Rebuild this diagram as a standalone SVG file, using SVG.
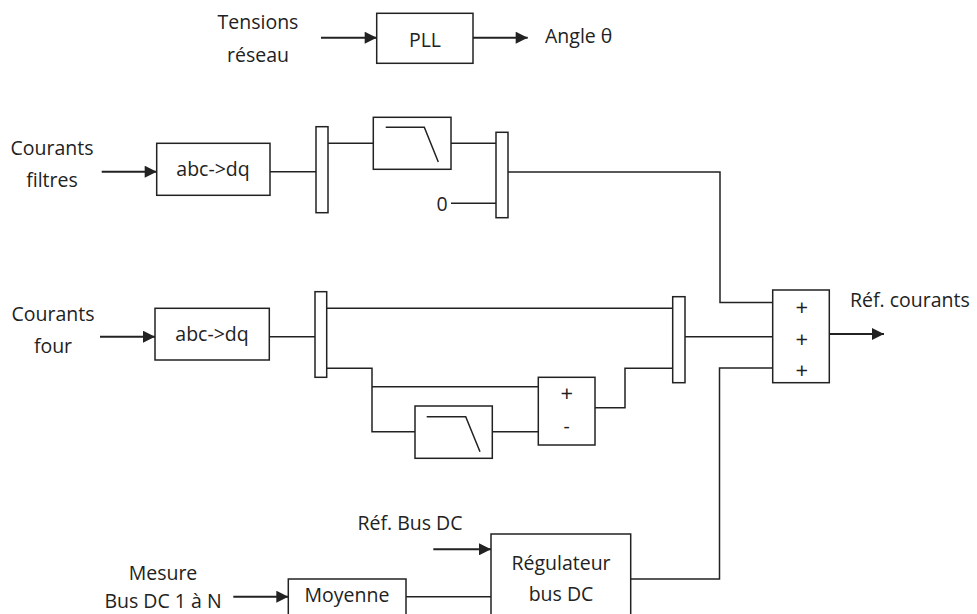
<svg xmlns="http://www.w3.org/2000/svg" width="977" height="614" viewBox="0 0 977 614">
<defs>
<marker id="ah" viewBox="0 0 10 10" refX="10" refY="5" markerWidth="13" markerHeight="12" markerUnits="userSpaceOnUse" orient="auto">
<path d="M0,0 L10,5 L0,10 z" fill="#222"/>
</marker>
<style>
.box{fill:#fff;stroke:#222;stroke-width:1.5}
.ln{fill:none;stroke:#222;stroke-width:1.5}
.ar{fill:none;stroke:#222;stroke-width:2;marker-end:url(#ah)}
text{font-family:"Open Sans","Liberation Sans",sans-serif;font-size:19.5px;fill:#222;text-anchor:middle}
.op{font-size:22px}
</style>
</defs>
<rect width="977" height="614" fill="#fff"/>
<g id="connectors">
<path class="ar" d="M321,37.7 H376.7"/>
<path class="ar" d="M473,37.7 H527.7"/>
<path class="ar" d="M101.7,171.7 H156.7"/>
<path class="ln" d="M270,171.7 H316"/>
<path class="ln" d="M328,143.3 H373.3"/>
<path class="ln" d="M451,143.3 H496"/>
<path class="ln" d="M451,203.3 H496"/>
<path class="ln" d="M508,172 H720 V302.5 H772.7"/>
<path class="ar" d="M100,336.7 H155"/>
<path class="ln" d="M269.3,336.7 H315"/>
<path class="ln" d="M326.7,308.3 H672.7"/>
<path class="ln" d="M326.7,368.3 H372 V431.7 H415"/>
<path class="ln" d="M372,386.7 H538.3"/>
<path class="ln" d="M492.3,431.7 H538.3"/>
<path class="ln" d="M595,407.7 H625 V368.3 H672.7"/>
<path class="ln" d="M685,336.7 H772.7"/>
<path class="ln" d="M630.7,579 H719.5 V368 H772.7"/>
<path class="ar" d="M829.3,334 H884"/>
<path class="ar" d="M433.3,549.3 H491"/>
<path class="ar" d="M233.3,596.7 H288.3"/>
<path class="ln" d="M406,596.7 H491"/>
</g>
<g id="pll">
<rect class="box" x="376.7" y="13.3" width="96.3" height="50"/>
<text x="425" y="47">PLL</text>
</g>
<g id="labels-top">
<text x="258" y="29">Tensions</text>
<text x="258" y="62">réseau</text>
<text x="545" y="43" style="text-anchor:start">Angle θ</text>
</g>
<g id="abcdq1">
<rect class="box" x="156.7" y="143.3" width="113.3" height="52"/>
<text x="213" y="176">abc-&gt;dq</text>
</g>
<g id="in-filtres">
<text x="52" y="155">Courants</text>
<text x="52" y="187">filtres</text>
</g>
<g id="demux1"><rect class="box" x="316" y="126.7" width="12" height="86"/></g>
<g id="filter1">
<rect class="box" x="373.3" y="117.3" width="77.7" height="52"/>
<path class="ln" d="M385.7,127.3 H424.3 L438.3,162"/>
</g>
<g id="mux2"><rect class="box" x="496" y="132.3" width="12" height="85.4"/></g>
<g id="zero"><text x="442" y="211">0</text></g>
<g id="abcdq2">
<rect class="box" x="155" y="308.3" width="114.3" height="51.7"/>
<text x="212" y="341">abc-&gt;dq</text>
</g>
<g id="in-four">
<text x="53" y="321">Courants</text>
<text x="53" y="353">four</text>
</g>
<g id="demux2"><rect class="box" x="315" y="291.7" width="11.7" height="85.6"/></g>
<g id="filter2">
<rect class="box" x="415" y="406" width="77.3" height="52.3"/>
<path class="ln" d="M426.7,416.7 H465.7 L480,451.7"/>
</g>
<g id="sum1">
<rect class="box" x="538.3" y="377.3" width="56.7" height="67.7"/>
<text class="op" x="566.7" y="401">+</text>
<text x="566.7" y="433">-</text>
</g>
<g id="mux4"><rect class="box" x="672.7" y="296.7" width="12.3" height="86"/></g>
<g id="sum2">
<rect class="box" x="772.7" y="290" width="56.6" height="92.7"/>
<text class="op" x="801.7" y="314.5">+</text>
<text class="op" x="801.7" y="347">+</text>
<text class="op" x="801.7" y="378">+</text>
</g>
<g id="out"><text x="850" y="307" style="text-anchor:start">Réf. courants</text></g>
<g id="ref-bus"><text x="410" y="530">Réf. Bus DC</text></g>
<g id="regulateur">
<rect class="box" x="491" y="534" width="139.7" height="90"/>
<text x="561" y="570">Régulateur</text>
<text x="561" y="601">bus DC</text>
</g>
<g id="moyenne">
<rect class="box" x="288.3" y="579" width="117.7" height="50"/>
<text x="347" y="602">Moyenne</text>
</g>
<g id="mesure">
<text x="163" y="580">Mesure</text>
<text x="163" y="608">Bus DC 1 à N</text>
</g>
</svg>
